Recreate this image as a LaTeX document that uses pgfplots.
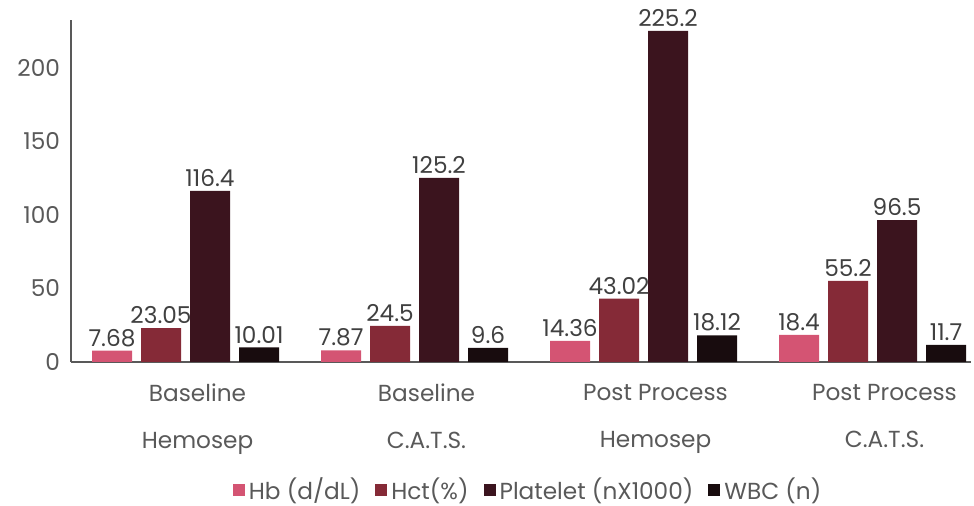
\documentclass[border=0pt]{standalone}
\usepackage{fontspec}
\setmainfont{Poppins}
\usepackage{pgfplots}
\pgfplotsset{compat=1.18}
\definecolor{cHb}{HTML}{D45473}
\definecolor{cHct}{HTML}{852A37}
\definecolor{cPlt}{HTML}{3B141E}
\definecolor{cWbc}{HTML}{180C0E}
\definecolor{axgray}{HTML}{595959}
\definecolor{txtgray}{HTML}{404040}
\newcommand\chfont{\fontsize{11.6pt}{13.9pt}\selectfont}
\begin{document}
\begin{tikzpicture}
\begin{axis}[
  name=ax,
  width=450pt, height=171pt, scale only axis,
  ybar=4.5pt, bar width=20pt,
  xmin=-0.5, xmax=3.43,
  ymin=0, ymax=232.6,
  ytick={0,50,100,150,200},
  xtick={0,1,2,3},
  xticklabels={{Baseline\\[9.5pt]Hemosep},{Baseline\\[9.5pt]C.A.T.S.},{Post Process\\[9.5pt]Hemosep},{Post Process\\[9.5pt]C.A.T.S.}},
  axis x line*=bottom, axis y line*=left,
  axis line style={axgray, line width=0.8pt},
  x axis line style={-}, y axis line style={-},
  major tick length=0pt,
  tick style={draw=none},
  /pgf/number format/assume math mode=true,
  ticklabel style={font=\chfont, text=axgray},
  yticklabel style={xshift=-2pt},
  xticklabel style={align=center, xshift=6pt, yshift=-7.5pt},
  nodes near coords,
  nodes near coords style={font=\chfont, text=txtgray, anchor=south, yshift=-1.5pt},
  point meta=explicit symbolic,
  legend style={at={(0.509,-0.374)}, anchor=center, draw=none, legend columns=4,
    font=\chfont, text=axgray,
    /tikz/every even column/.style={column sep=5.5pt}},
  legend image code/.code={\fill[#1] (0pt,-3pt) rectangle (6pt,3pt);},
  clip=false,
]
\addplot[fill=cHb, draw=none] coordinates {(0,7.68)[7.68] (1,7.87)[7.87] (2,14.36)[14.36] (3,18.4)[18.4]};
\addplot[fill=cHct, draw=none] coordinates {(0,23.05)[23.05] (1,24.5)[24.5] (2,43.02)[43.02] (3,55.2)[55.2]};
\addplot[fill=cPlt, draw=none] coordinates {(0,116.4)[116.4] (1,125.2)[125.2] (2,225.2)[225.2] (3,96.5)[96.5]};
\addplot[fill=cWbc, draw=none] coordinates {(0,10.01)[10.01] (1,9.6)[9.6] (2,18.12)[18.12] (3,11.7)[11.7]};
\legend{Hb (d/dL), Hct(\%), Platelet (nX1000), WBC (n)}
\end{axis}
\pgfresetboundingbox
\path ([shift={(-35.5pt,181pt)}]ax.south west) rectangle ([shift={(451.5pt,-72pt)}]ax.south west);
\end{tikzpicture}
\end{document}
